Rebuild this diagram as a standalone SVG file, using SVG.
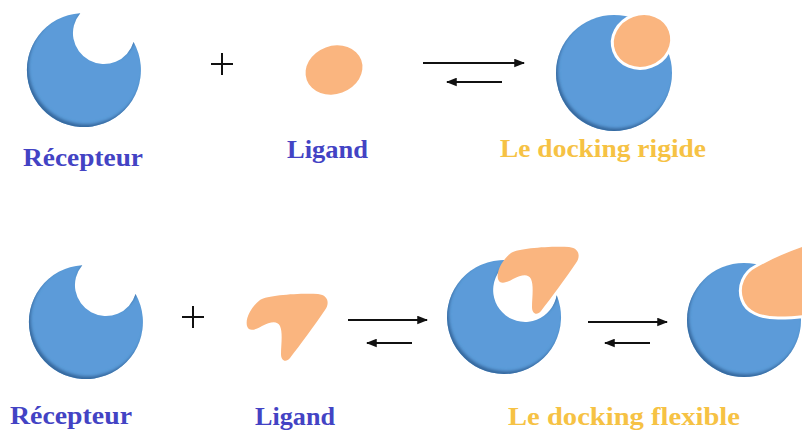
<svg xmlns="http://www.w3.org/2000/svg" xmlns:xlink="http://www.w3.org/1999/xlink" width="802" height="432" viewBox="0 0 802 432">
  <style>
    .rec { fill: #5b9bd9; filter: url(#bevel); }
    .lig { fill: #fab57f; }
    .lig-rim { fill: #fab57f; stroke: #ffffff; stroke-width: 3; }
    .plus { stroke: #111111; stroke-width: 2; fill: none; }
    .arrow { stroke: #111111; stroke-width: 1.8; fill: none; marker-end: url(#head); }
    .lbl { font-family: "Liberation Serif", "Times New Roman", serif; font-weight: bold; font-size: 26px; }
    .blue { fill: #4343c4; }
    .gold { fill: #f6c244; }
  </style>
  <defs>
    <!-- soft dark rim along the lower-left edge of the receptor -->
    <filter id="bevel" x="-20%" y="-20%" width="140%" height="140%">
      <feGaussianBlur in="SourceAlpha" stdDeviation="1.6" result="blur"/>
      <feOffset in="blur" dx="2" dy="-3" result="shift"/>
      <feComposite in="SourceAlpha" in2="shift" operator="out" result="rim"/>
      <feFlood flood-color="#2d5d92" flood-opacity="0.85"/>
      <feComposite in2="rim" operator="in" result="shade"/>
      <feMerge>
        <feMergeNode in="SourceGraphic"/>
        <feMergeNode in="shade"/>
      </feMerge>
    </filter>
    <marker id="head" viewBox="0 0 10 8" refX="9" refY="4" markerWidth="6" markerHeight="5" orient="auto" markerUnits="strokeWidth">
      <path d="M0,0 L10,4 L0,8 Z" fill="#111111"/>
    </marker>
    <!-- receptor: disc with a round pocket cut at upper right -->
    <path id="receptor" d="M-3.8,-56.85 A57,57 0 1,0 49.6,-27.9 A31,31 0 1,1 -3.8,-56.85 Z"/>
    <!-- bent flexible ligand -->
    <path id="bent" d="M-33,0 C-35,-8 -28,-20 -20,-26 C-12,-31 20,-33 38,-32 C48,-31 50,-23 45,-16 C35,-1 20,19 10,32 C6,37 1,35 1,28 C1,19 3,7 0,0 C-3,-6 -10,-4 -18,0 C-25,4 -31,6 -33,0 Z"/>
  </defs>

  <rect width="802" height="432" fill="#ffffff"/>

  <!-- rigid docking row -->
  <g id="receptor-rigid">
    <use xlink:href="#receptor" class="rec" transform="translate(84,70)"/>
    <text class="lbl blue" x="23" y="166" textLength="120" lengthAdjust="spacingAndGlyphs">Récepteur</text>
  </g>
  <g id="plus-rigid">
    <path class="plus" d="M211,64 H233 M222,53 V75"/>
  </g>
  <g id="ligand-rigid">
    <ellipse class="lig" cx="334" cy="70" rx="29" ry="24" transform="rotate(-20 334 70)"/>
    <text class="lbl blue" x="287" y="158" textLength="81" lengthAdjust="spacingAndGlyphs">Ligand</text>
  </g>
  <g id="complex-rigid">
    <circle class="rec" cx="614" cy="73" r="58"/>
    <ellipse class="lig-rim" cx="642" cy="41" rx="30" ry="27" transform="rotate(-20 642 41)"/>
    <text class="lbl gold" x="500" y="157" textLength="206" lengthAdjust="spacingAndGlyphs">Le docking rigide</text>
  </g>

  <!-- flexible docking row -->
  <g id="receptor-flexible">
    <use xlink:href="#receptor" class="rec" transform="translate(86,322)"/>
    <text class="lbl blue" x="10" y="424" textLength="122" lengthAdjust="spacingAndGlyphs">Récepteur</text>
  </g>
  <g id="plus-flexible">
    <path class="plus" d="M182,317 H204 M193,306 V328"/>
  </g>
  <g id="ligand-flexible">
    <use xlink:href="#bent" class="lig" transform="translate(280,326)"/>
    <text class="lbl blue" x="255" y="425" textLength="80" lengthAdjust="spacingAndGlyphs">Ligand</text>
  </g>
  <g id="complex-intermediate">
    <path class="rec" transform="translate(504,317)" d="M8.3,-56.4 A57,57 0 1,0 52.7,-21.8 A32,32 0 1,1 8.3,-56.4 Z"/>
    <use xlink:href="#bent" class="lig" transform="translate(531,279)"/>
  </g>
  <g id="complex-flexible">
    <circle class="rec" cx="744" cy="320" r="57"/>
    <path class="lig-rim" d="M742,300 C737,286 744,272 756,266 C770,258 788,250 806,244 L806,316 C797,318 788,318 778,318 C760,318 746,312 742,300 Z"/>
    <text class="lbl gold" x="508" y="425" textLength="232" lengthAdjust="spacingAndGlyphs">Le docking flexible</text>
  </g>

  <!-- equilibrium arrows -->
  <g id="connectors">
    <line class="arrow" x1="423" y1="63" x2="524" y2="63"/>
    <line class="arrow" x1="502" y1="82" x2="447" y2="82"/>
    <line class="arrow" x1="348" y1="320" x2="427" y2="320"/>
    <line class="arrow" x1="412" y1="343" x2="367" y2="343"/>
    <line class="arrow" x1="588" y1="322" x2="667" y2="322"/>
    <line class="arrow" x1="650" y1="343" x2="605" y2="343"/>
  </g>
</svg>
